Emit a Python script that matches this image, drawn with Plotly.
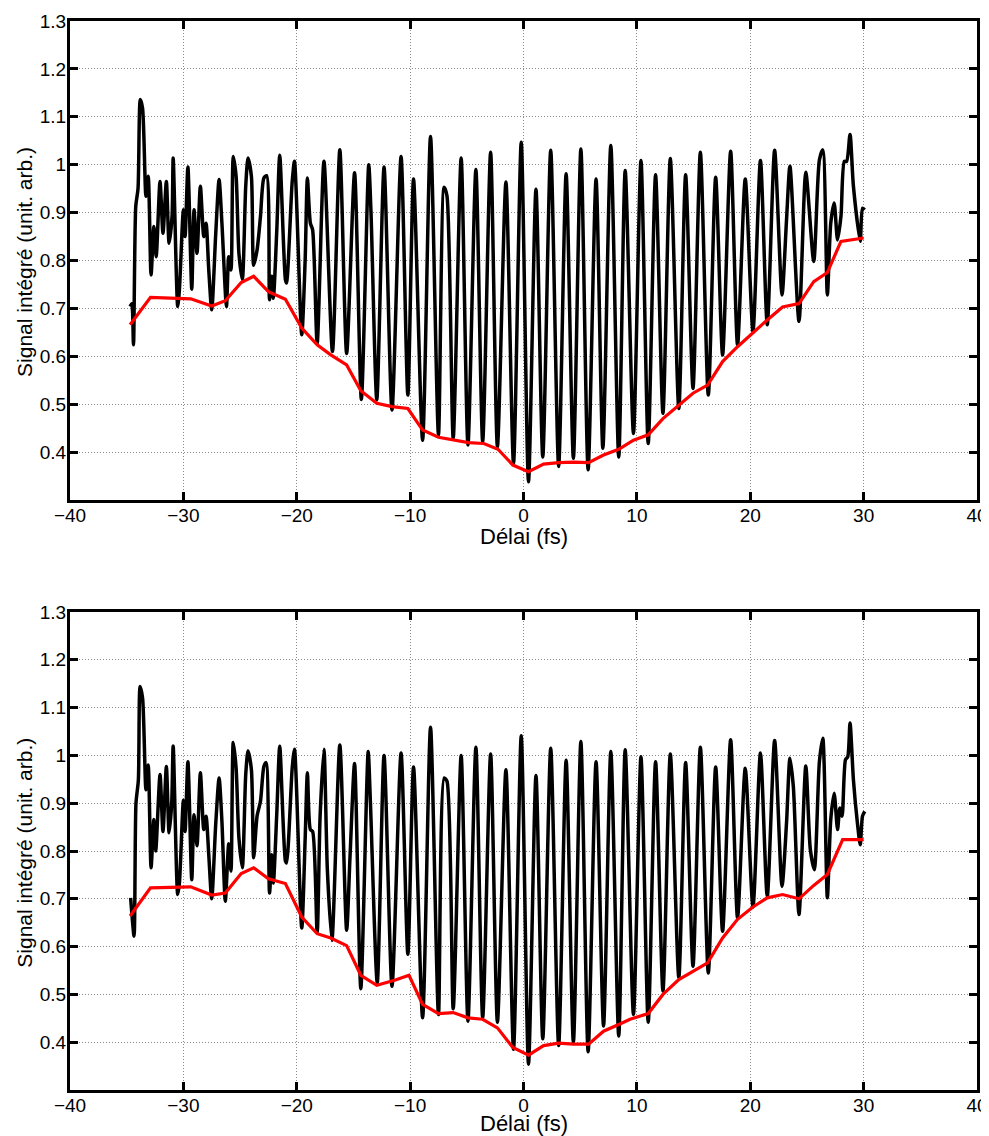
import plotly.graph_objects as go

# ---------------- data ----------------
top_delay = [-34.7, -34.55, -34.4, -34.2, -34.0, -33.8, -33.6, -33.3, -33.1, -32.85, -32.6, -32.4,
             -32.06, -31.8, -31.5, -31.26, -31.0, -30.9, -30.5, -30.35, -30.0, -29.85, -29.6, -29.26,
             -29.06, -28.8, -28.5, -28.2, -28.0, -27.76, -27.5, -27.15, -26.85, -26.6, -26.2, -26.0,
             -25.8, -25.6, -25.35, -25.1, -24.8, -24.5, -24.3, -24.0, -23.8, -23.5, -23.2, -22.9,
             -22.65, -22.4, -22.2, -22.06, -21.76, -21.5, -21.0, -20.9, -20.4, -20.2, -19.56, -19.26,
             -19.06, -18.8, -18.6, -18.2, -17.6, -16.85, -16.2, -15.6, -14.9, -14.3, -13.65, -13.45,
             -12.94, -12.3, -11.6, -10.8, -10.2, -9.7, -8.9, -8.2, -7.5, -7.0, -6.75, -6.2, -5.5, -4.9,
             -4.2, -3.6, -2.9, -2.3, -1.55, -0.88, -0.2, 0.44, 1.1, 1.7, 2.4, 3.1, 3.76, 4.4, 5.06,
             5.7, 6.4, 7.0, 7.7, 8.4, 8.97, 9.7, 10.36, 11.0, 11.65, 12.3, 12.95, 13.7, 14.3, 14.95,
             15.6, 16.3, 16.95, 17.56, 18.27, 18.88, 19.56, 20.24, 20.9, 21.5, 22.15, 22.8, 23.2,
             23.5, 24.3, 24.9, 25.6, 26.1, 26.4, 26.8, 27.1, 27.4, 27.7, 28.0, 28.3, 28.5, 28.8,
             29.1, 29.7, 29.9, 30.1]
top_signal = [0.704, 0.71, 0.624, 0.913, 0.95, 1.136, 1.118, 0.934, 0.976, 0.77, 0.871, 0.808,
              0.965, 0.857, 0.965, 0.836, 0.892, 1.014, 0.704, 0.74, 0.906, 0.85, 0.995, 0.74,
              0.906, 0.815, 0.955, 0.85, 0.878, 0.78, 0.697, 0.854, 0.969, 0.878, 0.704, 0.808,
              0.78, 1.017, 0.976, 0.815, 0.76, 0.955, 1.014, 0.976, 0.79, 0.822, 0.892, 0.972,
              0.977, 0.718, 0.767, 0.721, 0.864, 1.02, 0.76, 0.753, 0.965, 1.007, 0.645, 0.8,
              0.972, 0.878, 0.864, 0.627, 1.007, 0.61, 1.031, 0.606, 0.983, 0.51, 1.0, 0.9,
              0.509, 0.995, 0.488, 1.017, 0.519, 0.97, 0.425, 1.059, 0.436, 0.953, 0.935, 0.429, 1.014, 0.415,
              0.99, 0.422, 1.026, 0.411, 0.964, 0.376, 1.047, 0.338, 0.949, 0.39, 1.03, 0.37, 0.981, 0.387, 1.033,
              0.363, 0.97, 0.408, 1.04, 0.39, 0.988, 0.439, 1.009, 0.418, 0.979, 0.481, 1.013, 0.491, 0.979, 0.533,
              1.026, 0.519, 0.974, 0.603, 1.028, 0.624, 0.97, 0.652, 1.009, 0.666, 1.03, 0.728, 0.885,
              0.997, 0.673, 0.984, 0.798, 1.01, 1.031, 0.728, 0.878, 0.92, 0.843, 0.892, 1.007, 1.007, 1.063,
              0.955, 0.84, 0.909, 0.906]

top_env_delay = [-34.7, -32.9, -29.35, -27.5, -26.3, -24.9, -23.8, -22.5, -21.0, -19.56, -18.2, -17.0,
                 -15.6, -14.35, -12.94, -11.6, -10.2, -8.9, -7.5, -6.2, -4.85, -3.5, -2.25, -0.94,
                 0.44, 1.77, 3.1, 4.4, 5.74, 7.06, 8.4, 9.7, 11.0, 12.3, 13.7, 14.95, 16.24, 17.56,
                 18.88, 20.24, 21.5, 22.85, 24.3, 25.6, 26.8, 28.0, 30.0]
top_env = [0.666, 0.723, 0.72, 0.705, 0.716, 0.754, 0.767, 0.735, 0.719, 0.659, 0.624, 0.603,
           0.582, 0.528, 0.502, 0.495, 0.491, 0.446, 0.431, 0.425, 0.42, 0.418, 0.406, 0.373,
           0.359, 0.375, 0.378, 0.379, 0.378, 0.394, 0.406, 0.425, 0.436, 0.47, 0.498, 0.523, 0.54, 0.589,
           0.62, 0.65, 0.676, 0.703, 0.71, 0.756, 0.775, 0.84, 0.847]

bottom_delay = [-34.65, -34.56, -34.35, -34.18, -33.97, -33.82, -33.6, -33.3, -33.1, -32.85, -32.6, -32.44,
                -32.06, -31.8, -31.5, -31.26, -31.03, -30.9, -30.5, -30.35, -30.0, -29.85, -29.6, -29.26,
                -29.06, -28.8, -28.5, -28.2, -28.0, -27.76, -27.5, -27.15, -26.85, -26.6, -26.3, -26.0,
                -25.8, -25.6, -25.35, -25.1, -24.8, -24.5, -24.3, -24.0, -23.8, -23.5, -23.2, -22.9,
                -22.7, -22.4, -22.2, -22.06, -21.76, -21.5, -21.0, -20.9, -20.4, -20.2, -19.56, -19.26,
                -19.06, -18.8, -18.6, -18.2, -17.94, -17.6, -17.3, -16.9, -16.2, -15.6, -15.3, -14.9,
                -14.35, -13.7, -13.5, -12.9, -12.3, -11.6, -10.8, -10.2, -9.7, -8.9, -8.2, -7.5, -7.0,
                -6.75, -6.2, -5.5, -4.9, -4.2, -3.6, -2.9, -2.3, -1.55, -0.88, -0.2, 0.44, 1.1, 1.7,
                2.4, 3.1, 3.76, 4.4, 5.06, 5.7, 6.4, 7.06, 7.7, 8.4, 8.97, 9.7, 10.36, 11.0, 11.65,
                12.3, 12.95, 13.7, 14.3, 14.95, 15.6, 16.3, 16.95, 17.56, 18.27, 18.88, 19.56, 20.24,
                20.9, 21.5, 22.15, 22.8, 23.2, 23.5, 23.8, 24.3, 24.9, 25.3, 25.65, 26.1, 26.4, 26.8,
                27.1, 27.4, 27.7, 27.9, 28.1, 28.4, 28.6, 28.8, 29.1, 29.45, 29.7, 29.9, 30.1]
bottom_signal = [0.702, 0.674, 0.622, 0.9, 0.949, 1.144, 1.12, 0.928, 0.98, 0.765, 0.866, 0.8,
                 0.96, 0.841, 0.977, 0.838, 0.9, 1.02, 0.709, 0.733, 0.906, 0.841, 0.987, 0.74,
                 0.876, 0.811, 0.964, 0.845, 0.873, 0.792, 0.7, 0.855, 0.953, 0.862, 0.695, 0.815,
                 0.758, 1.027, 0.974, 0.827, 0.765, 0.96, 1.01, 0.97, 0.786, 0.873, 0.904, 0.977,
                 0.985, 0.712, 0.792, 0.733, 0.88, 1.019, 0.779, 0.775, 0.974, 1.013, 0.639, 0.824,
                 0.964, 0.845, 0.841, 0.629, 0.873, 1.013, 0.761, 0.613, 1.022, 0.634, 0.789, 0.983,
                 0.512, 1.008, 0.9, 0.524, 1.0, 0.517, 1.005, 0.584, 0.976, 0.451, 1.059, 0.458, 0.953,
                 0.946, 0.47, 1.0, 0.444, 1.017, 0.451, 1.003, 0.442, 0.97, 0.385, 1.041, 0.354, 0.958, 0.407,
                 1.015, 0.393, 0.99, 0.4, 1.029, 0.38, 0.987, 0.434, 1.008, 0.413, 1.012, 0.458, 0.997, 0.442, 0.987,
                 0.507, 1.003, 0.535, 0.985, 0.559, 1.017, 0.545, 0.976, 0.632, 1.033, 0.66, 0.973, 0.683,
                 1.005, 0.705, 1.031, 0.726, 0.859, 0.994, 0.935, 0.667, 0.978, 0.803, 0.761, 0.987, 1.036, 0.702,
                 0.866, 0.921, 0.845, 0.89, 0.873, 0.991, 0.997, 1.068, 0.949, 0.859, 0.813, 0.873, 0.883]

bottom_env_delay = [-34.7, -32.9, -29.35, -27.5, -26.3, -24.9, -23.8, -22.5, -21.0, -19.56, -18.2, -17.0,
                    -15.6, -14.35, -12.94, -11.3, -10.1, -8.9, -7.5, -6.2, -4.9, -3.6, -2.3, -0.94,
                    0.44, 1.77, 3.1, 4.4, 5.74, 7.06, 8.4, 9.4, 11.0, 12.3, 13.7, 14.95, 16.24, 17.56,
                    18.88, 20.24, 21.5, 22.85, 24.3, 25.6, 26.8, 28.15, 30.0]
bottom_env = [0.664, 0.723, 0.725, 0.708, 0.712, 0.753, 0.765, 0.742, 0.732, 0.662, 0.627, 0.618,
              0.602, 0.54, 0.519, 0.53, 0.54, 0.479, 0.46, 0.462, 0.451, 0.448, 0.43, 0.389,
              0.373, 0.393, 0.398, 0.396, 0.396, 0.423, 0.437, 0.448, 0.46, 0.5, 0.531, 0.549, 0.566, 0.618,
              0.657, 0.683, 0.702, 0.709, 0.7, 0.728, 0.751, 0.824, 0.824]

x_ticks = [-40, -30, -20, -10, 0, 10, 20, 30, 40]
y_ticks = [0.4, 0.5, 0.6, 0.7, 0.8, 0.9, 1.0, 1.1, 1.2, 1.3]
y_tick_labels = ["0.4", "0.5", "0.6", "0.7", "0.8", "0.9", "1", "1.1", "1.2", "1.3"]
x_title = "Délai (fs)"
y_title = "Signal intégré (unit. arb.)"

# ---------------- figure ----------------
FONT = "Liberation Sans, Arial, Helvetica, sans-serif"
fig = go.Figure()

for i, (xd, yd, xe, ye) in enumerate([
        (top_delay, top_signal, top_env_delay, top_env),
        (bottom_delay, bottom_signal, bottom_env_delay, bottom_env)]):
    xa = "x" if i == 0 else "x2"
    ya = "y" if i == 0 else "y2"
    fig.add_trace(go.Scatter(x=xd, y=yd, mode="lines", xaxis=xa, yaxis=ya,
                             line=dict(color="black", width=3.5, shape="spline", smoothing=0.7),
                             showlegend=False))
    fig.add_trace(go.Scatter(x=xe, y=ye, mode="lines", xaxis=xa, yaxis=ya,
                             line=dict(color="#ff0000", width=3.2), showlegend=False))

grid = dict(showgrid=True, gridcolor="#8c8c8c", gridwidth=1, griddash="1px,2px")
common_x = dict(range=[-40, 40], tickvals=x_ticks, ticks="inside", ticklen=8, tickwidth=3,
                tickcolor="black", showline=True, linecolor="black", linewidth=3, mirror="ticks",
                zeroline=False, tickfont=dict(family=FONT, size=19, color="black"),
                ticklabelstandoff=-4, automargin=False, **grid)
common_y = dict(range=[0.3, 1.3], tickvals=y_ticks, ticktext=y_tick_labels, ticks="inside",
                ticklen=8, tickwidth=3, tickcolor="black", showline=True, linecolor="black",
                linewidth=3, mirror="ticks", zeroline=False, automargin=False,
                ticklabelstandoff=-3,
                tickfont=dict(family=FONT, size=19, color="black"), **grid)

# page body has an 8px default margin: figure is sized so the plot areas land where the reference has them
fig.update_layout(
    width=981, height=1128,
    margin=dict(l=62, r=12, t=13, b=46),
    paper_bgcolor="white", plot_bgcolor="white",
    xaxis=dict(domain=[0, 1], anchor="y", **common_x),
    yaxis=dict(domain=[0.5519, 1], anchor="x", **common_y),
    xaxis2=dict(domain=[0, 1], anchor="y2", **common_x),
    yaxis2=dict(domain=[0, 0.4471], anchor="x2", **common_y),
)

title_font_x = dict(family=FONT, size=22, color="black")
title_font_y = dict(family=FONT, size=21, color="black")
for xt_y, yt_y in [(0.5182, 0.7746), (-0.0318, 0.222)]:
    fig.add_annotation(text=x_title, xref="paper", yref="paper", x=0.5, y=xt_y,
                       xanchor="center", yanchor="middle", showarrow=False, font=title_font_x)
    fig.add_annotation(text=y_title, xref="paper", yref="paper", x=-0.0496, y=yt_y,
                       xanchor="center", yanchor="middle", textangle=-90, showarrow=False,
                       font=title_font_y)

fig.write_html("out.html")
